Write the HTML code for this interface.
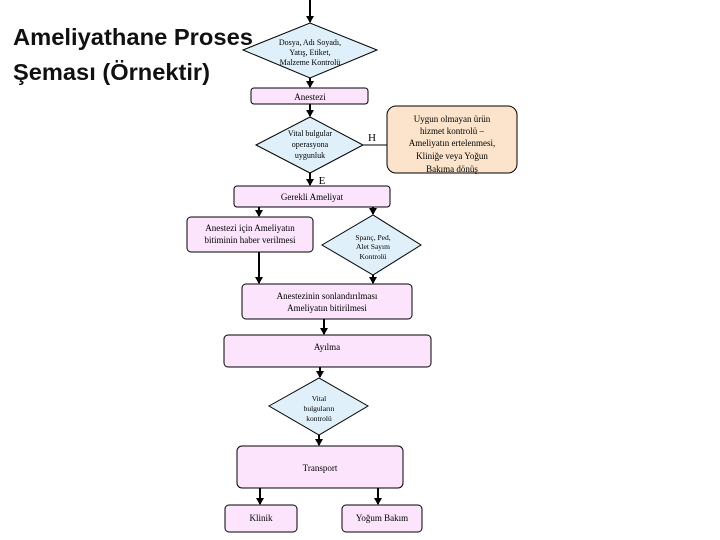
<!DOCTYPE html>
<html><head><meta charset="utf-8"><style>body{margin:0;background:#fff}svg{display:block}</style></head><body>
<svg width="720" height="540" xmlns="http://www.w3.org/2000/svg" font-family="Liberation Serif, serif" font-size="9">
<defs><marker id="a" markerWidth="8" markerHeight="8" refX="6" refY="4" orient="auto" markerUnits="userSpaceOnUse"><path d="M0,0L7,4L0,8z" fill="#000"/></marker></defs>
<text x="13" y="45" font-family="Liberation Sans, sans-serif" font-size="23" font-weight="bold" textLength="240" lengthAdjust="spacingAndGlyphs" fill="#111">Ameliyathane Proses</text>
<text x="13" y="80" font-family="Liberation Sans, sans-serif" font-size="23" font-weight="bold" textLength="197" lengthAdjust="spacingAndGlyphs" fill="#111">Şeması (Örnektir)</text>
<g stroke="#000" stroke-width="2" marker-end="url(#a)">
<line x1="310" y1="0" x2="310" y2="22"/>
<line x1="310" y1="78" x2="310" y2="87"/>
<line x1="310" y1="104" x2="310" y2="116"/>
<line x1="310" y1="173" x2="310" y2="185"/>
<line x1="259" y1="207" x2="259" y2="216"/>
<line x1="373" y1="207" x2="373" y2="214"/>
<line x1="259" y1="252" x2="259" y2="283"/>
<line x1="373" y1="275" x2="373" y2="283"/>
<line x1="324" y1="319" x2="324" y2="334"/>
<line x1="320" y1="367" x2="320" y2="377"/>
<line x1="319" y1="435" x2="319" y2="445"/>
<line x1="260" y1="488" x2="260" y2="504"/>
<line x1="378" y1="488" x2="378" y2="504"/>
</g>
<line x1="363" y1="145" x2="387" y2="145" stroke="#000"/>
<g stroke="#000" stroke-width="1">
<polygon points="243,50 310,23 377,50 310,78" fill="#dff0fa"/>
<rect x="251" y="88" width="117" height="16" rx="3" fill="#fce4fc"/>
<polygon points="256,145 310,117 363,145 310,173" fill="#dff0fa"/>
<rect x="387" y="106" width="130" height="67" rx="9" fill="#fce4cc"/>
<rect x="234" y="186" width="156" height="21" rx="3" fill="#fce4fc"/>
<rect x="187" y="217" width="126" height="35" rx="4" fill="#fce4fc"/>
<polygon points="322,245 373,215 421,245 373,275" fill="#dff0fa"/>
<rect x="242" y="284" width="170" height="35" rx="4" fill="#fce4fc"/>
<rect x="224" y="335" width="207" height="32" rx="4" fill="#fce4fc"/>
<polygon points="269,406 319,378 368,406 319,435" fill="#dff0fa"/>
<rect x="237" y="446" width="166" height="42" rx="5" fill="#fce4fc"/>
<rect x="225" y="505" width="72" height="27" rx="4" fill="#fce4fc"/>
<rect x="342" y="505" width="80" height="27" rx="4" fill="#fce4fc"/>
</g>
<g text-anchor="middle" fill="#000">
<text x="310" y="45" font-size="8">Dosya, Adı Soyadı,</text>
<text x="310" y="55" font-size="8">Yatış, Etiket,</text>
<text x="310" y="65" font-size="8">Malzeme Kontrolü</text>
<text x="310" y="100">Anestezi</text>
<text x="310" y="136" font-size="8">Vital bulgular</text>
<text x="310" y="147" font-size="8">operasyona</text>
<text x="310" y="158" font-size="8">uygunluk</text>
<text x="372" y="141" font-size="11">H</text>
<text x="322" y="184" font-size="11">E</text>
<text x="452" y="122">Uygun olmayan ürün</text>
<text x="452" y="134">hizmet kontrolü –</text>
<text x="452" y="146">Ameliyatın ertelenmesi,</text>
<text x="452" y="159">Kliniğe veya Yoğun</text>
<text x="452" y="172">Bakıma dönüş</text>
<text x="312" y="200">Gerekli Ameliyat</text>
<text x="250" y="231">Anestezi için Ameliyatın</text>
<text x="250" y="243">bitiminin haber verilmesi</text>
<text x="373" y="240" font-size="7.5">Spanç, Ped,</text>
<text x="373" y="249" font-size="7.5">Alet Sayım</text>
<text x="373" y="259" font-size="7.5">Kontrolü</text>
<text x="327" y="299">Anestezinin sonlandırılması</text>
<text x="327" y="311">Ameliyatın bitirilmesi</text>
<text x="327" y="350">Ayılma</text>
<text x="319" y="401" font-size="7.5">Vital</text>
<text x="319" y="411" font-size="7.5">bulguların</text>
<text x="319" y="421" font-size="7.5">kontrolü</text>
<text x="320" y="471">Transport</text>
<text x="261" y="521">Klinik</text>
<text x="382" y="521">Yoğum Bakım</text>
</g>
</svg>
</body></html>
